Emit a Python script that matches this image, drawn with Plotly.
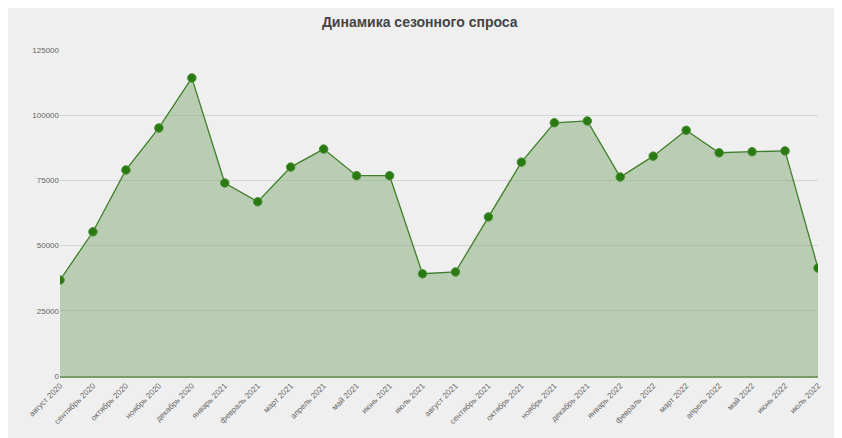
import plotly.graph_objects as go

months = ["август 2020", "сентябрь 2020", "октябрь 2020", "ноябрь 2020", "декабрь 2020",
          "январь 2021", "февраль 2021", "март 2021", "апрель 2021", "май 2021", "июнь 2021",
          "июль 2021", "август 2021", "сентябрь 2021", "октябрь 2021", "ноябрь 2021",
          "декабрь 2021", "январь 2022", "февраль 2022", "март 2022", "апрель 2022",
          "май 2022", "июнь 2022", "июль 2022"]
demand = [36800, 55300, 79000, 95100, 114300, 74000, 66800, 80100, 87000, 76800, 76800,
          39200, 39900, 61000, 82000, 97100, 97800, 76300, 84300, 94200, 85600, 86000,
          86300, 41400]
y_ticks = [0, 25000, 50000, 75000, 100000, 125000]

idx = list(range(len(months)))

fig = go.Figure()
fig.add_trace(go.Scatter(
    x=idx, y=demand, mode="lines+markers", fill="tozeroy",
    fillcolor="rgba(120,165,105,0.45)",
    line=dict(color="#3f7f2a", width=1.3),
    marker=dict(color="#2a7a12", size=8.5, line=dict(color="#4f8f3a", width=1)),
    hoverinfo="x+y", showlegend=False,
))

fig.update_layout(
    width=842, height=438,
    paper_bgcolor="#efefef", plot_bgcolor="#efefef",
    margin=dict(l=52, r=32, t=42, b=70),
    title=dict(text="<b>Динамика сезонного спроса</b>", x=0.489, xanchor="center",
               y=0.968, yanchor="middle",
               font=dict(family="Liberation Sans, Arial", size=14, color="#444444")),
    font=dict(family="Liberation Sans, Arial", color="#555555"),
    xaxis=dict(range=[0, len(months) - 1], tickvals=idx, ticktext=months,
               tickangle=-45, tickfont=dict(size=8, color="#666666"),
               showgrid=False, zeroline=False, showline=True, linecolor="#7a9a6a",
               linewidth=2, ticks="", fixedrange=True),
    yaxis=dict(range=[0, 125000], tickvals=y_ticks, ticktext=[str(v) for v in y_ticks],
               tickfont=dict(size=8, color="#666666"),
               showgrid=True, gridcolor="#d6d6d6", gridwidth=1, zeroline=False,
               ticks="", fixedrange=True),
)
fig.add_shape(type="line", xref="paper", yref="paper", x0=1.026, x1=1.026, y0=-0.3, y1=1.3,
              line=dict(color="#d8d8d8", width=2))

fig.write_html("out.html")
